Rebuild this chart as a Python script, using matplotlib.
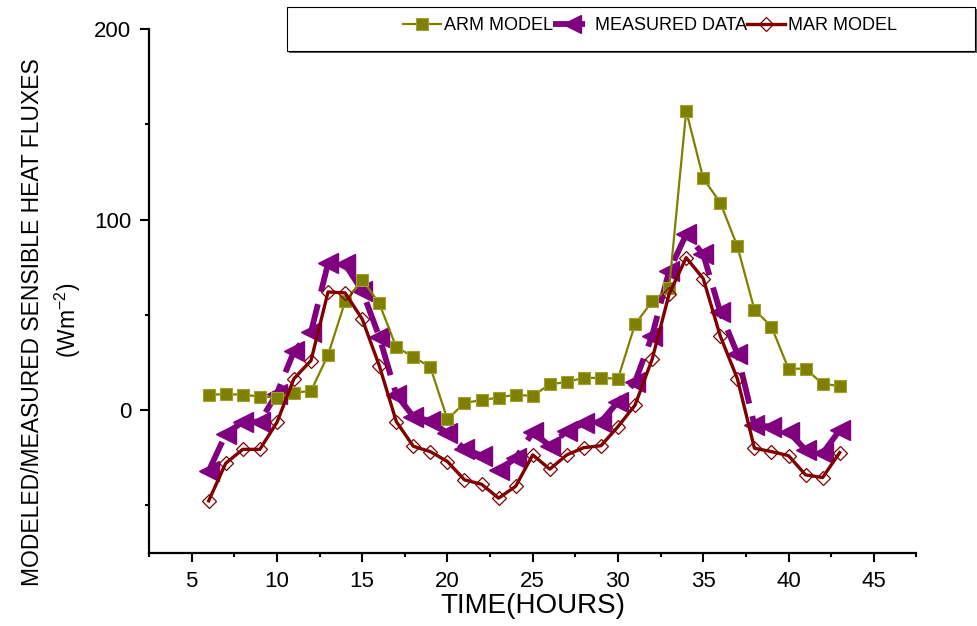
import matplotlib
matplotlib.use("Agg")
import matplotlib.pyplot as plt
from matplotlib.patches import Rectangle
from matplotlib.ticker import MultipleLocator

plt.rcParams["font.family"] = ["Liberation Sans", "DejaVu Sans"]

hours = list(range(6, 44))

arm_model = [
    8.1, 8.3, 8.1, 7.1, 6.6, 9.2, 10, 29, 57, 68.5,
    56, 33, 28, 22.5, -4.9, 3.8, 5.2, 6.6, 8.1, 7.4,
    13.5, 14.8, 16.9, 16.9, 16.5, 45, 57, 64, 157, 121.6,
    108.8, 86, 52.7, 43.8, 21.7, 21.7, 13.7, 12.7,
]

measured_data = [
    -32, -12.6, -6.1, -6.1, 8.7, 30.8, 41, 77, 76.5, 62.6,
    38.6, 8.1, -3.4, -5.8, -12.2, -20.4, -23.9, -31.4, -25.3, -11.7,
    -18.7, -11, -7, -6.1, 4.3, 14.8, 39, 73, 92.2, 81.8,
    51.3, 29.6, -7.9, -8.7, -11.3, -20.9, -22.7, -10.5,
]

mar_model = [
    -47.6, -27.9, -20.6, -20.6, -6.5, 16.5, 26, 62, 61.5, 47.8,
    23.4, -6, -19, -21.8, -27, -36.6, -38.9, -46.2, -40, -23.5,
    -31, -23.5, -19.7, -18.7, -8.7, 2.6, 26.6, 60.9, 80, 69,
    38.8, 16.5, -20, -21.8, -23.9, -34, -35.4, -22.3,
]

OLIVE = "#808000"
PURPLE = "#800080"
DARKRED = "#800000"

fig = plt.figure(figsize=(9.77, 6.26), dpi=100)
ax = fig.add_axes([0.1525, 0.1166, 0.7855, 0.8371])

line_measured, = ax.plot(
    hours, measured_data,
    color=PURPLE, linewidth=4.2, linestyle=(0, (5.5, 2.2)),
    dash_capstyle="butt",
    marker="<", markersize=14, markerfacecolor=PURPLE, markeredgecolor=PURPLE,
    label="MEASURED DATA", zorder=2,
)
line_arm, = ax.plot(
    hours, arm_model,
    color=OLIVE, linewidth=1.6,
    marker="s", markersize=9, markerfacecolor=OLIVE, markeredgecolor="#a0a030",
    markeredgewidth=0.8, label="ARM MODEL", zorder=3,
)
line_mar, = ax.plot(
    hours, mar_model,
    color=DARKRED, linewidth=2.4,
    marker="D", markersize=7.5, markerfacecolor="none", markeredgecolor=DARKRED,
    markeredgewidth=0.9, label="MAR MODEL", zorder=4,
)

ax.set_xlim(2.5, 47.5)
ax.set_ylim(-75, 200)

ax.xaxis.set_major_locator(MultipleLocator(5))
ax.xaxis.set_minor_locator(MultipleLocator(2.5))
ax.yaxis.set_major_locator(MultipleLocator(100))
ax.yaxis.set_minor_locator(MultipleLocator(50))

ax.spines["top"].set_visible(False)
ax.spines["right"].set_visible(False)
ax.spines["left"].set_linewidth(1.6)
ax.spines["bottom"].set_linewidth(1.6)

ax.tick_params(axis="both", which="major", direction="out", length=6.8, width=1.5,
               labelsize=16, pad=6)
ax.tick_params(axis="both", which="minor", direction="out", length=3.2, width=1.5)
ax.tick_params(axis="x", which="major", pad=6)

ax.set_xlabel("TIME(HOURS)", fontsize=20, labelpad=1)

fig.text(0.033, 0.485, "MODELED/MEASURED SENSIBLE HEAT FLUXES",
         rotation=90, ha="center", va="center", fontsize=16.5)
fig.text(0.07, 0.489, "(Wm$^{\\mathregular{-2}}$)", rotation=90, ha="center",
         va="center", fontsize=16.5)

# legend box with shadow
shadow = Rectangle((289 / 977, 1 - 53 / 626), 688 / 977, 44 / 626,
                   transform=fig.transFigure, facecolor="#555555",
                   edgecolor="none", zorder=0)
box = Rectangle((287 / 977, 1 - 51 / 626), 688 / 977, 44 / 626,
                transform=fig.transFigure, facecolor="white",
                edgecolor="black", linewidth=0.8, zorder=1)
fig.patches.extend([shadow, box])

fig.legend(
    handles=[line_arm, line_measured, line_mar],
    loc="center", bbox_to_anchor=(650 / 977, 1 - 26 / 626),
    ncol=3, frameon=False, fontsize=13,
    handlelength=2.1, handletextpad=0.2, columnspacing=0.0,
    markerscale=0.9,
)

fig.savefig("out.png", dpi=100)
